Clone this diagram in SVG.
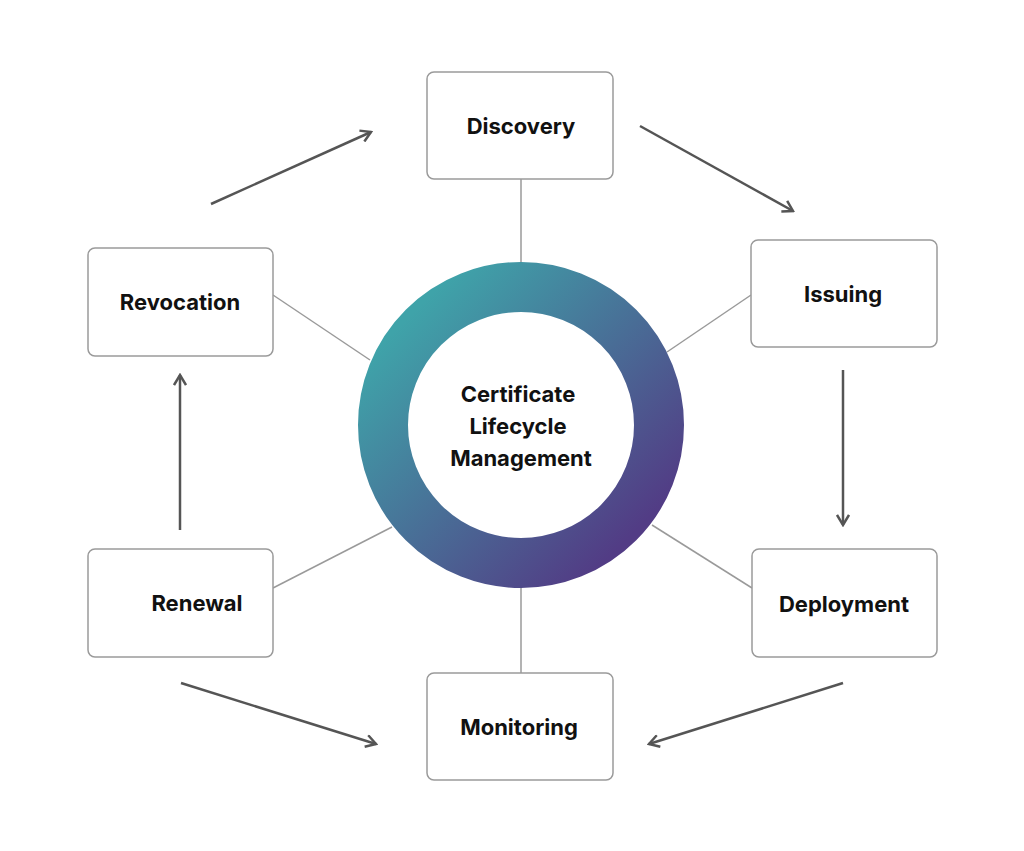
<svg xmlns="http://www.w3.org/2000/svg" width="1024" height="851" viewBox="0 0 1024 851">
<style>
.box{fill:#fff;stroke:#9a9a9a;stroke-width:1.5}
.t{font-family:Inter,"Liberation Sans",sans-serif;font-weight:700;font-size:22px;fill:#111;text-anchor:middle;dominant-baseline:central}
.ln{stroke:#9a9a9a;stroke-width:1.5;fill:none}
.ar{stroke:#555;stroke-width:2.5;fill:none;marker-end:url(#ah)}
</style>
<defs>
<linearGradient id="g" x1="0" y1="0" x2="1" y2="1">
<stop offset="0.1" stop-color="#3fa3a9"/><stop offset="0.9" stop-color="#523c85"/>
</linearGradient>
<marker id="ah" markerWidth="14" markerHeight="14" refX="12" refY="7" orient="auto" markerUnits="userSpaceOnUse">
<path d="M2,1 L12,7 L2,13" fill="none" stroke="#555" stroke-width="2.5"/>
</marker>
</defs>
<rect width="1024" height="851" fill="#fff"/>
<g id="connectors">
<line class="ln" x1="521" y1="179" x2="521" y2="262"/>
<line class="ln" x1="751" y1="295" x2="667" y2="352"/>
<line class="ln" x1="752" y1="588" x2="652" y2="525"/>
<line class="ln" x1="521" y1="673" x2="521" y2="588"/>
<line class="ln" x1="273" y1="588" x2="392" y2="527"/>
<line class="ln" x1="273" y1="295" x2="370" y2="360"/>
<line class="ar" x1="211" y1="204" x2="371" y2="132"/>
<line class="ar" x1="640" y1="126" x2="793" y2="211"/>
<line class="ar" x1="843" y1="370" x2="843" y2="525"/>
<line class="ar" x1="843" y1="683" x2="649" y2="744"/>
<line class="ar" x1="181" y1="683" x2="376" y2="744"/>
<line class="ar" x1="180" y1="530" x2="180" y2="375"/>
</g>
<g id="center">
<circle cx="521" cy="425" r="138" fill="none" stroke="url(#g)" stroke-width="50"/>
<text class="t" x="518" y="394">Certificate</text>
<text class="t" x="518" y="426">Lifecycle</text>
<text class="t" x="521" y="458">Management</text>
</g>
<g id="discovery"><rect class="box" x="427" y="72" width="186" height="107" rx="7"/><text class="t" x="521" y="126">Discovery</text></g>
<g id="issuing"><rect class="box" x="751" y="240" width="186" height="107" rx="7"/><text class="t" x="843" y="294">Issuing</text></g>
<g id="deployment"><rect class="box" x="752" y="549" width="185" height="108" rx="7"/><text class="t" x="844" y="604">Deployment</text></g>
<g id="monitoring"><rect class="box" x="427" y="673" width="186" height="107" rx="7"/><text class="t" x="519" y="727">Monitoring</text></g>
<g id="renewal"><rect class="box" x="88" y="549" width="185" height="108" rx="7"/><text class="t" x="197" y="603">Renewal</text></g>
<g id="revocation"><rect class="box" x="88" y="248" width="185" height="108" rx="7"/><text class="t" x="180" y="302">Revocation</text></g>
</svg>
